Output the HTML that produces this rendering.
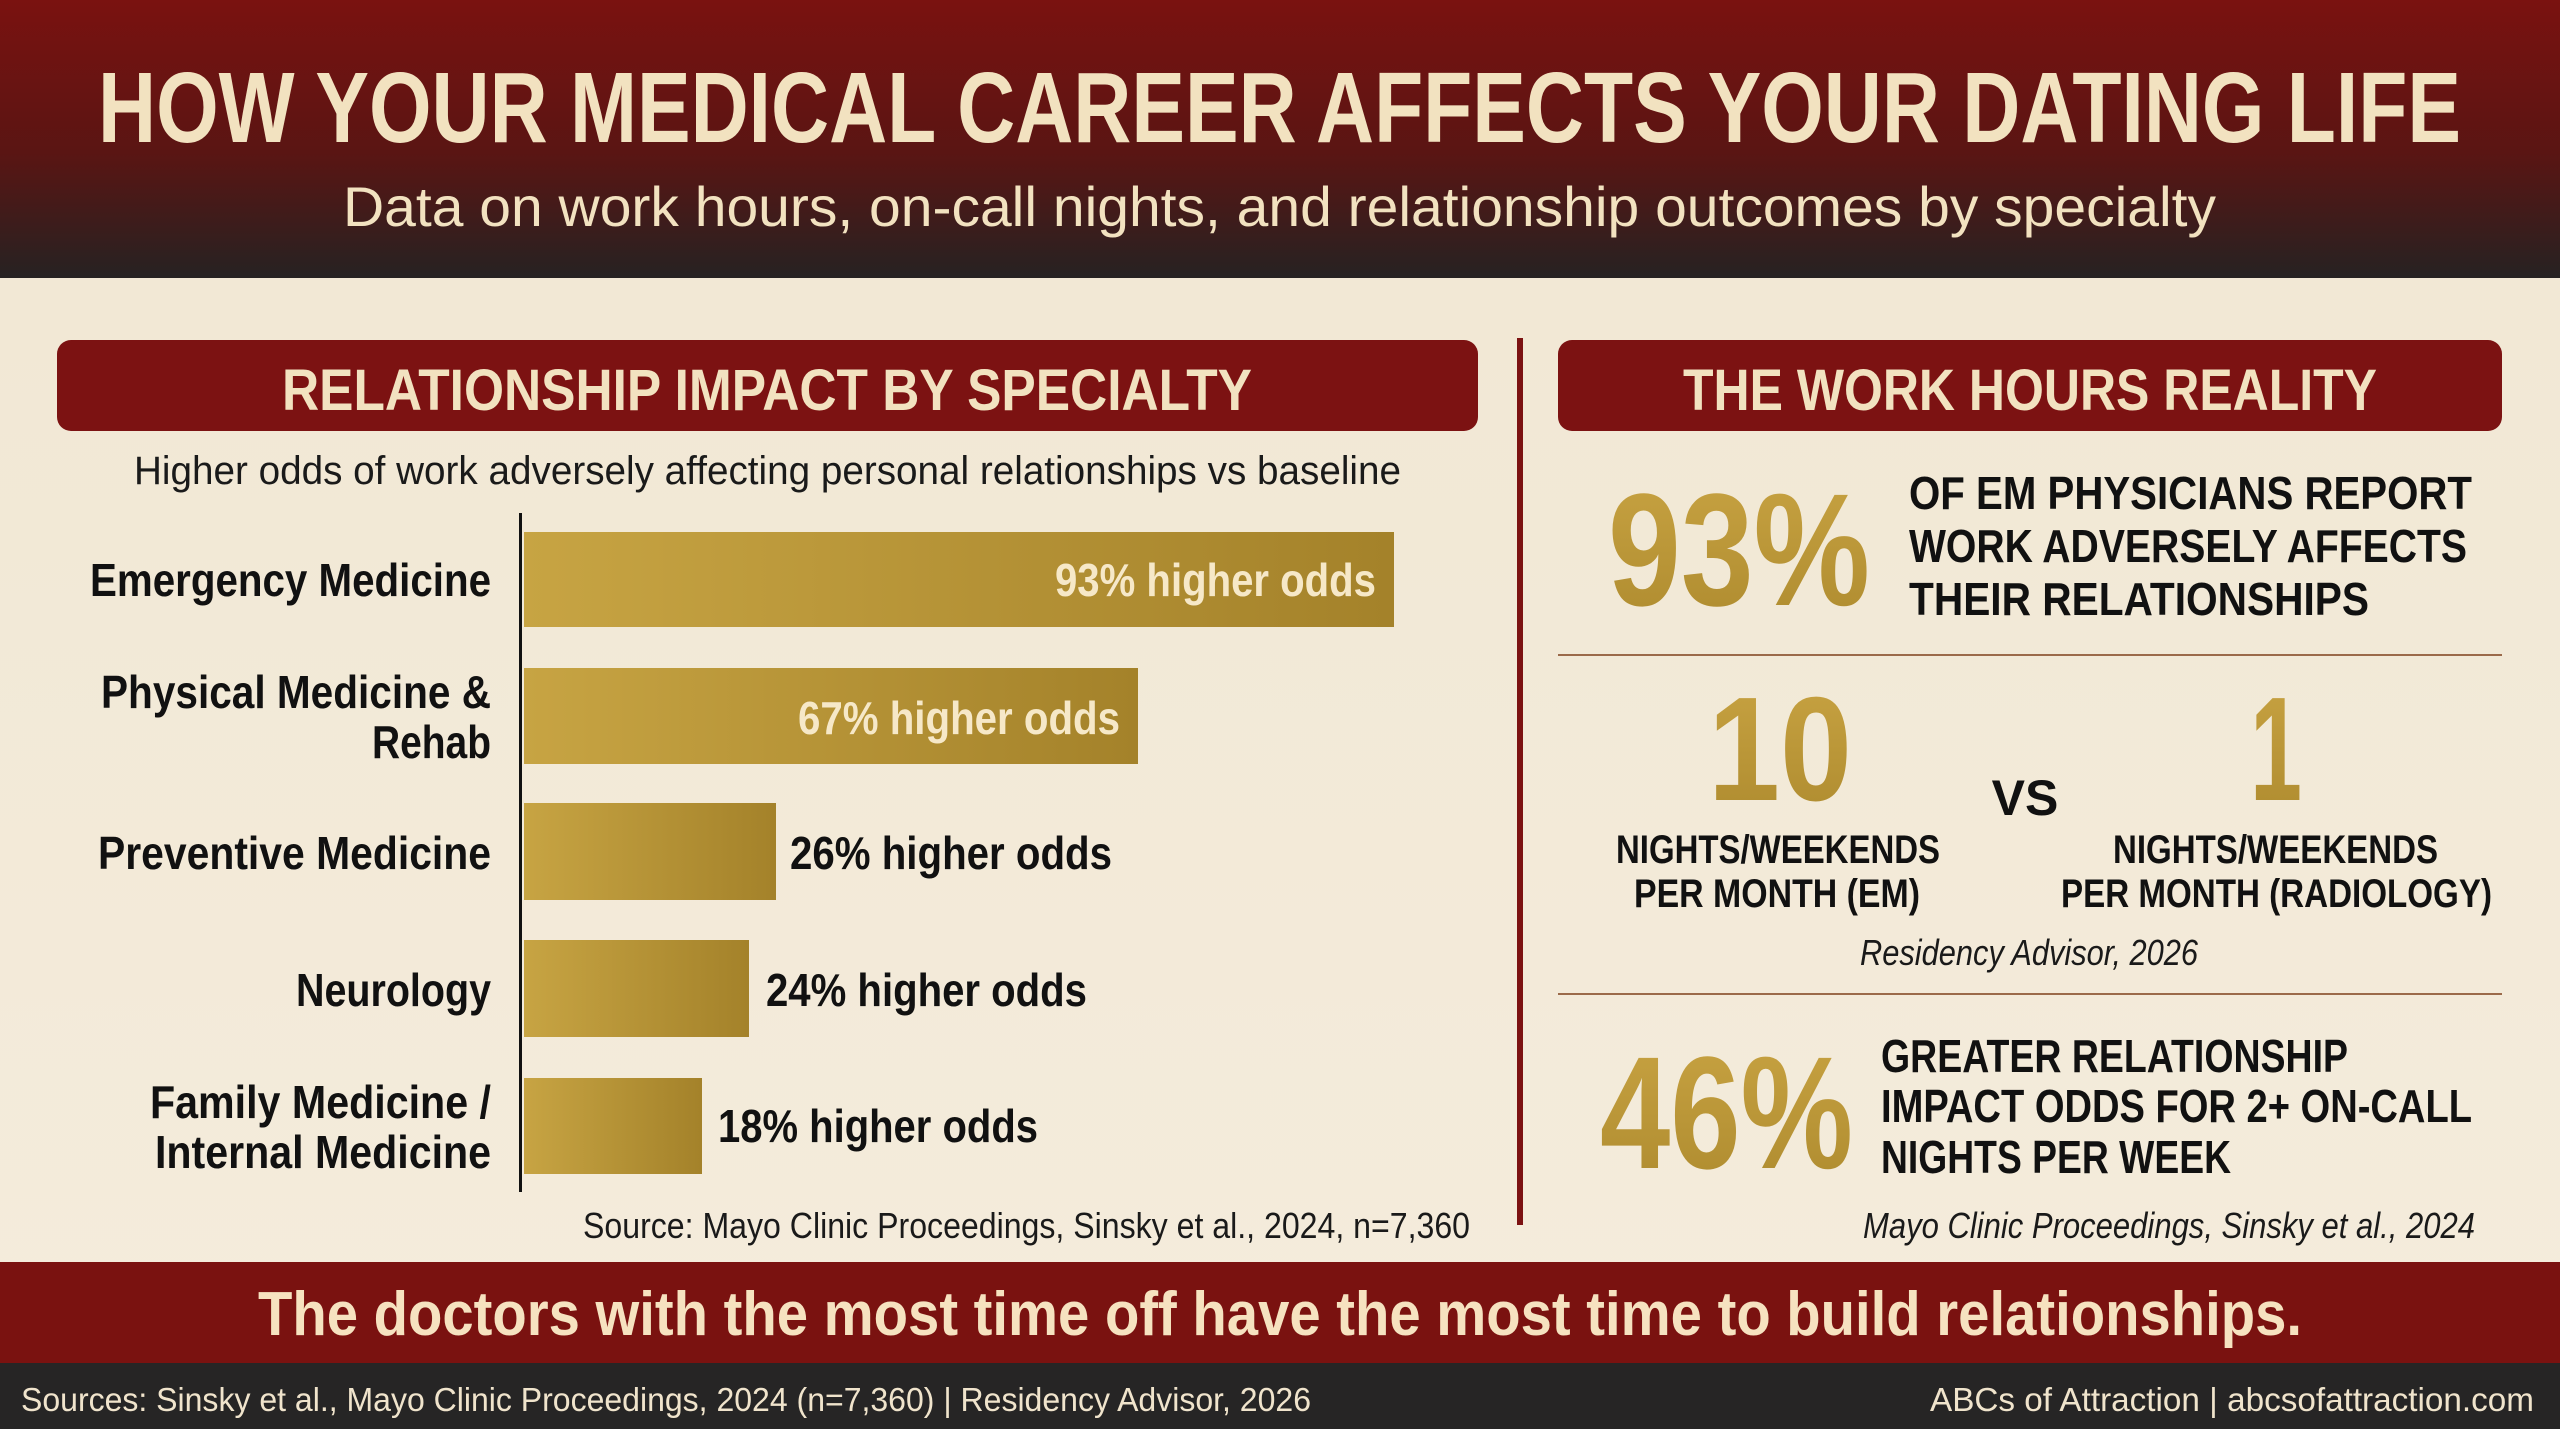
<!DOCTYPE html>
<html><head><meta charset="utf-8"><style>html,body{margin:0;padding:0;background:#f4ecdc}svg{display:block}</style></head>
<body>
<svg width="2560" height="1429" viewBox="0 0 2560 1429" xmlns="http://www.w3.org/2000/svg" font-family="'Liberation Sans', sans-serif">
<defs>
<linearGradient id="hdr" x1="0" y1="0" x2="0" y2="1"><stop offset="0" stop-color="#7a1210"/><stop offset="0.55" stop-color="#5a1513"/><stop offset="1" stop-color="#262222"/></linearGradient>
<linearGradient id="gold" x1="0" y1="0" x2="1" y2="0"><stop offset="0" stop-color="#c7a443"/><stop offset="1" stop-color="#a4822a"/></linearGradient>
<linearGradient id="bg" x1="0" y1="0" x2="0" y2="1"><stop offset="0" stop-color="#f1e7d3"/><stop offset="1" stop-color="#f4ecdc"/></linearGradient>
<linearGradient id="goldt" x1="0" y1="0" x2="0" y2="1"><stop offset="0" stop-color="#c9a443"/><stop offset="1" stop-color="#ad8a2e"/></linearGradient>
</defs>
<rect width="2560" height="1429" fill="url(#bg)"/>
<rect width="2560" height="278" fill="url(#hdr)"/>
<text x="98" y="142" font-size="100" font-weight="bold" fill="#f2e2c0" textLength="2363" lengthAdjust="spacingAndGlyphs">HOW YOUR MEDICAL CAREER AFFECTS YOUR DATING LIFE</text>
<text x="343" y="226" font-size="56" fill="#f2e2c0" textLength="1873" lengthAdjust="spacingAndGlyphs">Data on work hours, on-call nights, and relationship outcomes by specialty</text>

<rect x="57" y="340" width="1421" height="91" rx="14" fill="#7c1212"/>
<text x="282" y="410" font-size="58" font-weight="bold" fill="#f2e2c0" textLength="970" lengthAdjust="spacingAndGlyphs">RELATIONSHIP IMPACT BY SPECIALTY</text>
<text x="134" y="484" font-size="40" fill="#1a1a1a" textLength="1267" lengthAdjust="spacingAndGlyphs">Higher odds of work adversely affecting personal relationships vs baseline</text>
<rect x="519" y="513" width="3" height="679" fill="#111"/>
<rect x="524" y="532" width="870" height="95" fill="url(#gold)"/>
<rect x="524" y="668" width="614" height="96" fill="url(#gold)"/>
<rect x="524" y="803" width="252" height="97" fill="url(#gold)"/>
<rect x="524" y="940" width="225" height="97" fill="url(#gold)"/>
<rect x="524" y="1078" width="178" height="96" fill="url(#gold)"/>
<g font-size="46" font-weight="bold" fill="#111" lengthAdjust="spacingAndGlyphs">
<text x="90" y="596" textLength="401" lengthAdjust="spacingAndGlyphs">Emergency Medicine</text>
<text x="101" y="708" textLength="390" lengthAdjust="spacingAndGlyphs">Physical Medicine &amp;</text>
<text x="372" y="758" textLength="119" lengthAdjust="spacingAndGlyphs">Rehab</text>
<text x="98" y="869" textLength="393" lengthAdjust="spacingAndGlyphs">Preventive Medicine</text>
<text x="296" y="1006" textLength="195" lengthAdjust="spacingAndGlyphs">Neurology</text>
<text x="150" y="1118" textLength="341" lengthAdjust="spacingAndGlyphs">Family Medicine /</text>
<text x="155" y="1168" textLength="336" lengthAdjust="spacingAndGlyphs">Internal Medicine</text>
<text x="1055" y="596" fill="#f6e8c8" textLength="321" lengthAdjust="spacingAndGlyphs">93% higher odds</text>
<text x="798" y="734" fill="#f6e8c8" textLength="322" lengthAdjust="spacingAndGlyphs">67% higher odds</text>
<text x="790" y="869" textLength="322" lengthAdjust="spacingAndGlyphs">26% higher odds</text>
<text x="766" y="1006" textLength="321" lengthAdjust="spacingAndGlyphs">24% higher odds</text>
<text x="718" y="1142" textLength="320" lengthAdjust="spacingAndGlyphs">18% higher odds</text>
</g>
<text x="583" y="1238" font-size="36" fill="#1a1a1a" textLength="887" lengthAdjust="spacingAndGlyphs">Source: Mayo Clinic Proceedings, Sinsky et al., 2024, n=7,360</text>

<rect x="1517" y="338" width="6" height="887" fill="#7c1212"/>
<rect x="1558" y="340" width="944" height="91" rx="14" fill="#7c1212"/>
<text x="1683" y="410" font-size="58" font-weight="bold" fill="#f2e2c0" textLength="694" lengthAdjust="spacingAndGlyphs">THE WORK HOURS REALITY</text>
<text x="1608" y="605" font-size="160" font-weight="bold" fill="url(#goldt)" textLength="262" lengthAdjust="spacingAndGlyphs">93%</text>
<g font-size="46" font-weight="bold" fill="#111">
<text x="1909" y="509" textLength="563" lengthAdjust="spacingAndGlyphs">OF EM PHYSICIANS REPORT</text>
<text x="1909" y="562" textLength="558" lengthAdjust="spacingAndGlyphs">WORK ADVERSELY AFFECTS</text>
<text x="1909" y="615" textLength="460" lengthAdjust="spacingAndGlyphs">THEIR RELATIONSHIPS</text>
</g>
<rect x="1558" y="654" width="944" height="2" fill="#9b6a4a"/>
<text x="1708" y="800" font-size="148" font-weight="bold" fill="url(#goldt)" textLength="144" lengthAdjust="spacingAndGlyphs">10</text>
<text x="2250" y="800" font-size="148" font-weight="bold" fill="url(#goldt)" textLength="52" lengthAdjust="spacingAndGlyphs">1</text>
<text x="2025" y="815" font-size="50" font-weight="bold" fill="#111" text-anchor="middle">VS</text>
<g font-size="40" font-weight="bold" fill="#111">
<text x="1616" y="863" textLength="324" lengthAdjust="spacingAndGlyphs">NIGHTS/WEEKENDS</text>
<text x="1634" y="907" textLength="286" lengthAdjust="spacingAndGlyphs">PER MONTH (EM)</text>
<text x="2113" y="863" textLength="325" lengthAdjust="spacingAndGlyphs">NIGHTS/WEEKENDS</text>
<text x="2061" y="907" textLength="431" lengthAdjust="spacingAndGlyphs">PER MONTH (RADIOLOGY)</text>
</g>
<text x="1860" y="965" font-size="36" font-style="italic" fill="#1a1a1a" textLength="338" lengthAdjust="spacingAndGlyphs">Residency Advisor, 2026</text>
<rect x="1558" y="993" width="944" height="2" fill="#9b6a4a"/>
<text x="1600" y="1168" font-size="160" font-weight="bold" fill="url(#goldt)" textLength="253" lengthAdjust="spacingAndGlyphs">46%</text>
<g font-size="46" font-weight="bold" fill="#111">
<text x="1881" y="1072" textLength="467" lengthAdjust="spacingAndGlyphs">GREATER RELATIONSHIP</text>
<text x="1881" y="1122" textLength="591" lengthAdjust="spacingAndGlyphs">IMPACT ODDS FOR 2+ ON-CALL</text>
<text x="1881" y="1173" textLength="350" lengthAdjust="spacingAndGlyphs">NIGHTS PER WEEK</text>
</g>
<text x="1863" y="1238" font-size="36" font-style="italic" fill="#1a1a1a" textLength="612" lengthAdjust="spacingAndGlyphs">Mayo Clinic Proceedings, Sinsky et al., 2024</text>

<rect x="0" y="1262" width="2560" height="101" fill="#7a1210"/>
<text x="258" y="1335" font-size="62" font-weight="bold" fill="#f6e2c0" textLength="2044" lengthAdjust="spacingAndGlyphs">The doctors with the most time off have the most time to build relationships.</text>
<rect x="0" y="1363" width="2560" height="66" fill="#262525"/>
<text x="21" y="1411" font-size="33" fill="#f0e4cc" textLength="1290" lengthAdjust="spacingAndGlyphs">Sources: Sinsky et al., Mayo Clinic Proceedings, 2024 (n=7,360) | Residency Advisor, 2026</text>
<text x="1930" y="1411" font-size="33" fill="#f0e4cc" textLength="604" lengthAdjust="spacingAndGlyphs">ABCs of Attraction | abcsofattraction.com</text>
</svg>
</body></html>
